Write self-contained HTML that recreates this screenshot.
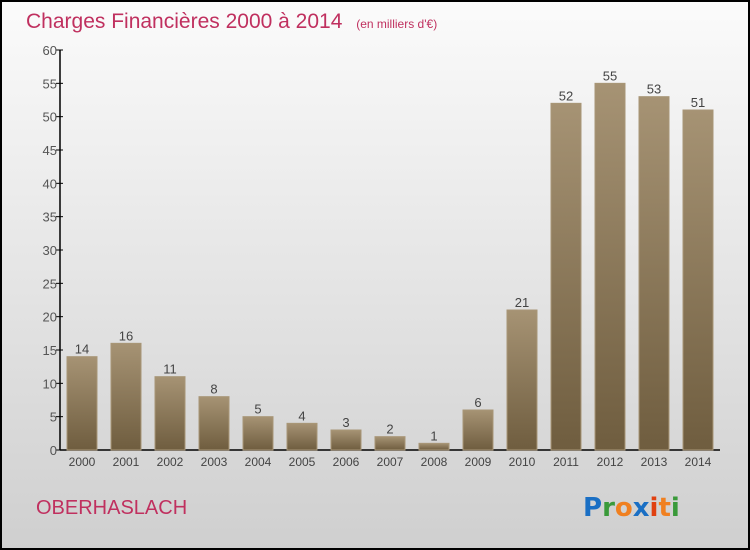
<!DOCTYPE html>
<html><head><meta charset="utf-8"><style>
body{margin:0;width:750px;height:550px;overflow:hidden}
svg{display:block;font-family:"Liberation Sans",sans-serif}
</style></head><body>
<svg id="c" width="750" height="550" xmlns="http://www.w3.org/2000/svg">
<defs>
<linearGradient id="bg" x1="0" y1="0" x2="0" y2="1"><stop offset="0" stop-color="#fbfbfb"/><stop offset="1" stop-color="#cfcfcf"/></linearGradient>
<linearGradient id="bar" x1="0" y1="0" x2="0" y2="1"><stop offset="0" stop-color="#a69374"/><stop offset="1" stop-color="#6f5d3f"/></linearGradient>
</defs>
<rect x="1" y="1" width="748" height="548" fill="url(#bg)" stroke="#000" stroke-width="2"/>
<text x="26" y="28" font-size="21" fill="#c0305f">Charges Financières 2000 à 2014 <tspan font-size="12" dx="8">(en milliers d'€)</tspan></text>
<text x="36" y="514" font-size="20" fill="#c0305f">OBERHASLACH</text>
<g font-size="26" font-weight="bold" font-family="'DejaVu Sans',sans-serif">
<text x="583" y="516"><tspan fill="#1a6fc4">P</tspan><tspan fill="#3a9a3a">r</tspan><tspan fill="#f08020">o</tspan><tspan fill="#1a6fc4">x</tspan><tspan fill="#e04010">i</tspan><tspan fill="#f08020">t</tspan><tspan fill="#3a9a3a">i</tspan></text>
</g>
<g id="axes"></g><g id="bars"></g>
</svg>
<script>
const categories=["2000","2001","2002","2003","2004","2005","2006","2007","2008","2009","2010","2011","2012","2013","2014"];
const values=[14,16,11,8,5,4,3,2,1,6,21,52,55,53,51];
const yTicks=[0,5,10,15,20,25,30,35,40,45,50,55,60];
const NS="http://www.w3.org/2000/svg";
const x0=60,y0=450,yTop=50,yMax=60,step=44,firstC=82,bw=30;
const y=v=>y0-(v/yMax)*(y0-yTop);
const x=i=>firstC+i*step;
function mk(t,a,p){const e=document.createElementNS(NS,t);for(const k in a)e.setAttribute(k,a[k]);p.appendChild(e);return e;}
const ax=document.getElementById('axes'),bg=document.getElementById('bars');
let l=mk('line',{x1:x0,y1:yTop,x2:x0,y2:y0,stroke:'#000','stroke-width':1.5},ax);


l=mk('line',{x1:x0,y1:y0,x2:720,y2:y0,stroke:'#000','stroke-width':1.5},ax);


yTicks.forEach(v=>{
 const t=mk('line',{x1:x0-4,x2:x0+3,y1:y(v),y2:y(v),stroke:'#000'},ax);
 
 
 const tx=mk('text',{x:x0-3,y:y(v)+5,'font-size':13,fill:'#555','text-anchor':'end'},ax);
 tx.textContent=v;
 
 
});
categories.forEach((c,i)=>{
 const r=mk('rect',{x:x(i)-bw/2,y:y(values[i]),width:bw,height:y0-y(values[i]),fill:'url(#bar)',stroke:'#a89677','stroke-width':1},bg);
 
 
 const vl=mk('text',{x:x(i),y:y(values[i])-3,'font-size':13,fill:'#444','text-anchor':'middle'},bg);
 vl.textContent=values[i];
 
 
 const xl=mk('text',{x:x(i),y:y0+16,'font-size':12,fill:'#444','text-anchor':'middle'},bg);
 xl.textContent=c;
 
 
});
</script>
</body></html>
